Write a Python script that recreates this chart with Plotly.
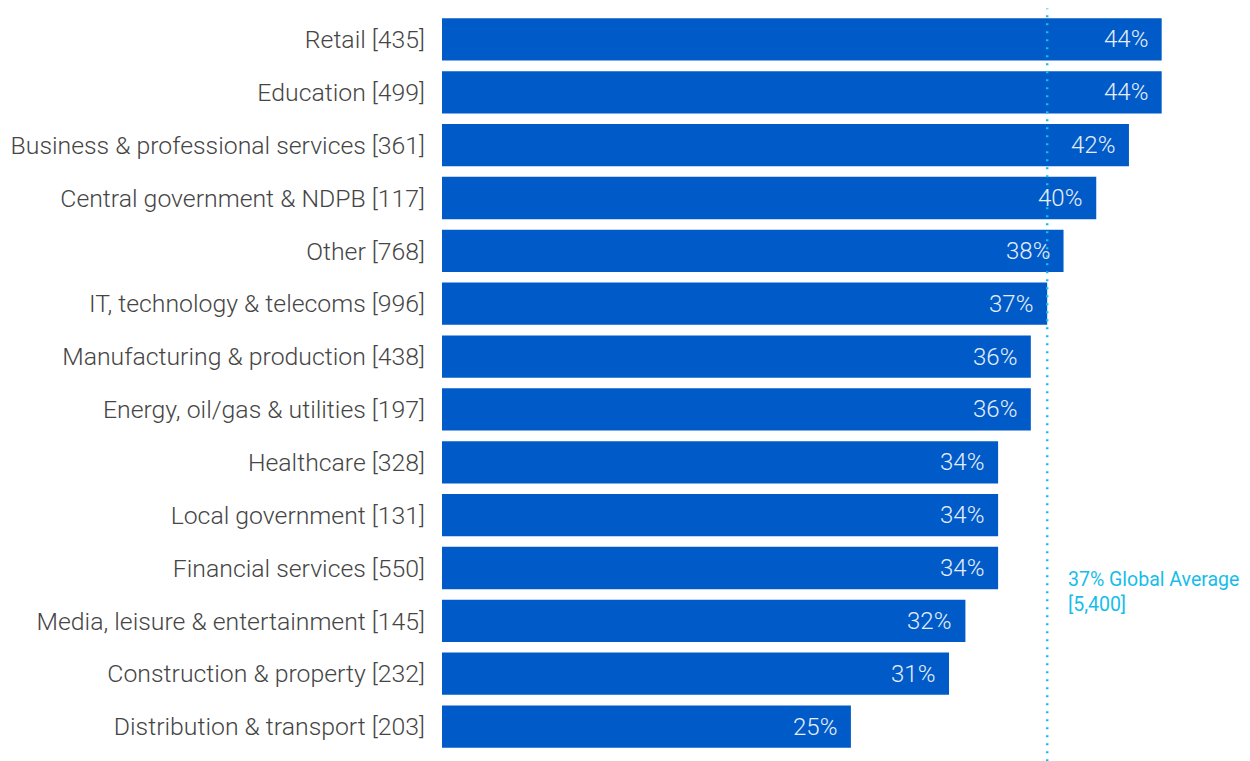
import plotly.graph_objects as go

categories = [
    "Retail [435]", "Education [499]", "Business & professional services [361]",
    "Central government & NDPB [117]", "Other [768]", "IT, technology & telecoms [996]",
    "Manufacturing & production [438]", "Energy, oil/gas & utilities [197]",
    "Healthcare [328]", "Local government [131]", "Financial services [550]",
    "Media, leisure & entertainment [145]", "Construction & property [232]",
    "Distribution & transport [203]",
]
values = [44, 44, 42, 40, 38, 37, 36, 36, 34, 34, 34, 32, 31, 25]
value_labels = [f"{v}%" for v in values]
global_avg = 37
avg_label = "37% Global Average<br>[5,400]"

BAR = "#005bc8"
CYAN = "#17bde9"

fig = go.Figure()
fig.add_trace(go.Bar(
    y=categories, x=values, orientation="h",
    marker=dict(color=BAR, line=dict(width=0)),
    hoverinfo="skip",
))

for c, v, t in zip(categories, values, value_labels):
    fig.add_annotation(
        x=v, y=c, xref="x", yref="y", text=t, showarrow=False,
        xanchor="right", yanchor="middle", xshift=-12,
        font=dict(family="Roboto", size=24, color="#e6eefa", weight=300),
    )

fig.add_shape(
    type="line", xref="x", yref="paper",
    x0=global_avg, x1=global_avg, y0=-0.011, y1=1.006,
    line=dict(color=CYAN, width=2.5, dash="2px,6px"),
    layer="above",
)
fig.add_annotation(
    x=global_avg, xref="x", y=0.253, yref="paper", text=avg_label,
    showarrow=False, xanchor="left", yanchor="top", xshift=19, align="left",
    font=dict(family="Roboto", size=19.5, color=CYAN, weight=400),
)

fig.update_layout(
    width=1242, height=753,
    margin=dict(l=434, r=0, t=5, b=8),
    paper_bgcolor="white", plot_bgcolor="white",
    bargap=0.2, showlegend=False,
    xaxis=dict(range=[0, 49.4], visible=False, fixedrange=True),
    yaxis=dict(
        autorange="reversed", showgrid=False, zeroline=False, showline=False,
        ticks="", ticklabelstandoff=16,
        tickfont=dict(family="Roboto", size=24.8, color="#454545", weight=300),
    ),
)

fig.write_html("out.html")
